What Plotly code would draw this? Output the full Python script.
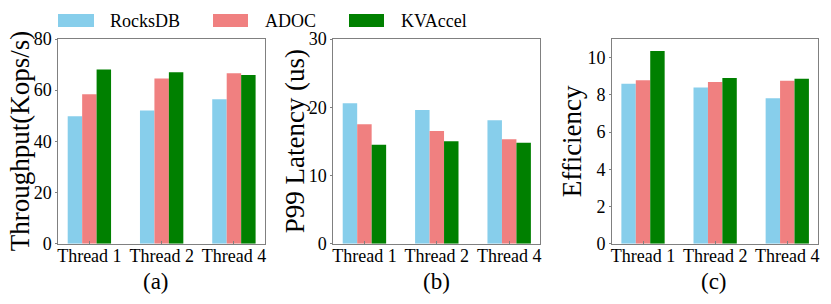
import plotly.graph_objects as go

categories = ["Thread 1", "Thread 2", "Thread 4"]
series_names = ["RocksDB", "ADOC", "KVAccel"]
colors = ["#87CEEB", "#F08080", "#008000"]

throughput_rocksdb = [49.8, 52.1, 56.5]
throughput_adoc = [58.4, 64.6, 66.6]
throughput_kvaccel = [68.1, 67.0, 65.9]

latency_rocksdb = [20.6, 19.6, 18.1]
latency_adoc = [17.5, 16.5, 15.3]
latency_kvaccel = [14.5, 15.0, 14.8]

efficiency_rocksdb = [8.59, 8.39, 7.82]
efficiency_adoc = [8.78, 8.69, 8.75]
efficiency_kvaccel = [10.36, 8.91, 8.86]

panels = [
    ("Throughput(Kops/s)", [throughput_rocksdb, throughput_adoc, throughput_kvaccel], [0, 80], [0, 20, 40, 60, 80], "(a)"),
    ("P99 Latency (us)", [latency_rocksdb, latency_adoc, latency_kvaccel], [0, 30], [0, 10, 20, 30], "(b)"),
    ("Efficiency", [efficiency_rocksdb, efficiency_adoc, efficiency_kvaccel], [0, 11], [0, 2, 4, 6, 8, 10], "(c)"),
]

W, H = 831, 304
x_px = [(58.3, 265.0), (333.3, 540.3), (612.0, 818.3)]
y_top, y_bot = 39.0, 243.7
title_x_px = [20, 295, 572]
label_x_px = [156, 436, 714]

FONT = "Liberation Serif"
FRAME = "#808080"

fig = go.Figure()
layout = dict(
    width=W, height=H,
    margin=dict(l=0, r=0, t=0, b=0, autoexpand=False),
    paper_bgcolor="white", plot_bgcolor="white",
    barmode="group", bargap=0.4, bargroupgap=0,
    showlegend=False,
    font=dict(family=FONT, size=18, color="black"),
)
annotations = []
shapes = []

for i, (ytitle, vals, yr, yt, lab) in enumerate(panels):
    k = "" if i == 0 else str(i + 1)
    for s, name in enumerate(series_names):
        fig.add_trace(go.Bar(
            x=categories, y=vals[s], name=name,
            marker=dict(color=colors[s], line=dict(width=0)),
            xaxis="x" + k, yaxis="y" + k,
        ))
    x0, x1 = x_px[i]
    layout["xaxis" + k] = dict(
        domain=[x0 / W, x1 / W], anchor="y" + k,
        range=[-0.43, 2.43], type="category",
        showline=True, linecolor=FRAME, linewidth=1, mirror=True,
        ticks="inside", ticklen=3, tickcolor=FRAME,
        ticklabelstandoff=-4,
        tickfont=dict(family=FONT, size=18, color="black"),
        showgrid=False, zeroline=False, automargin=False,
    )
    layout["yaxis" + k] = dict(
        domain=[(H - y_bot) / H, (H - y_top) / H], anchor="x" + k,
        range=yr, tickvals=yt,
        showline=True, linecolor=FRAME, linewidth=1, mirror=True,
        ticks="outside", ticklen=2, tickcolor=FRAME,
        tickfont=dict(family=FONT, size=18, color="black"),
        showgrid=False, zeroline=False, automargin=False,
    )
    annotations.append(dict(
        text=ytitle, textangle=-90, xref="paper", yref="paper",
        x=title_x_px[i] / W, y=(H - (y_top + y_bot) / 2) / H,
        xanchor="center", yanchor="middle", showarrow=False,
        font=dict(family=FONT, size=27, color="black"),
    ))
    annotations.append(dict(
        text=lab, xref="paper", yref="paper",
        x=label_x_px[i] / W, y=(H - 281) / H,
        xanchor="center", yanchor="middle", showarrow=False,
        font=dict(family=FONT, size=23, color="black"),
    ))

# legend drawn as patches + labels
legend_patch = [(58, 94), (213, 248), (349, 384)]
legend_text_x = [108, 263, 399]
for s, name in enumerate(series_names):
    p0, p1 = legend_patch[s]
    shapes.append(dict(type="rect", xref="paper", yref="paper",
                       x0=p0 / W, x1=p1 / W, y0=(H - 27) / H, y1=(H - 14) / H,
                       fillcolor=colors[s], line=dict(width=0)))
    annotations.append(dict(
        text=name, xref="paper", yref="paper",
        x=legend_text_x[s] / W, y=(H - 21) / H,
        xanchor="left", yanchor="middle", showarrow=False,
        font=dict(family=FONT, size=18, color="black"),
    ))

layout["annotations"] = annotations
layout["shapes"] = shapes
fig.update_layout(**layout)
fig.write_html("out.html", config={"displayModeBar": False},
               post_script="document.body.style.margin='0';document.body.style.overflow='hidden';")
